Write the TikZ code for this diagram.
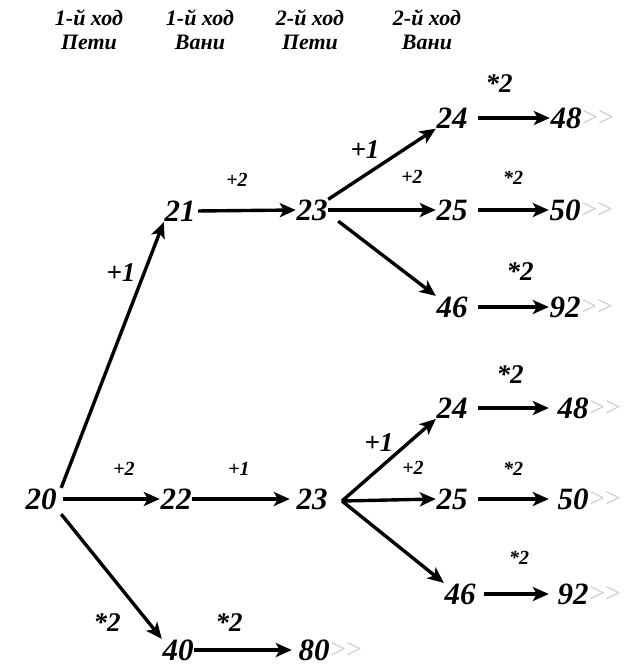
\documentclass[tikz,border=0pt]{standalone}
\usepackage{fontspec}
\setmainfont{Liberation Serif}
\usetikzlibrary{arrows.meta,calc}
\begin{document}
\begin{tikzpicture}[x=1pt,y=-1pt,
  num/.style={font=\fontsize{31}{31}\selectfont\bfseries\itshape, inner sep=0.5pt},
  big/.style={font=\fontsize{27}{27}\selectfont\bfseries\itshape, inner sep=0pt},
  small/.style={font=\fontsize{20}{20}\selectfont\bfseries\itshape, inner sep=0pt},
  head/.style={font=\fontsize{22}{24}\selectfont\bfseries\itshape, align=center, inner sep=0pt},
  more/.style={font=\fontsize{28}{28}\selectfont, text=gray!40, inner sep=0pt, anchor=west},
  arr/.style={line width=3.4pt, -{Stealth[length=16pt,width=14pt,inset=4pt]}}
]
\useasboundingbox (0,0) rectangle (627,667);
% headers
\node[head] (h1) at (89,30) {1-й ход\\Пети};
\node[head] (h2) at (200,30) {1-й ход\\Вани};
\node[head] (h3) at (310,30) {2-й ход\\Пети};
\node[head] (h4) at (427,30) {2-й ход\\Вани};
% nodes
\node[num] (n20) at (41,499) {20};
\node[num] (n21) at (180,211) {21};
\node[num] (n23a) at (312,210) {23};
\node[num] (n24a) at (452,118) {24};
\node[num] (n25a) at (452,210) {25};
\node[num] (n46a) at (452,307) {46};
\node[num] (n48a) at (566,118) {48};
\node[num] (n50a) at (565,210) {50};
\node[num] (n92a) at (565,307) {92};
\node[num] (n22) at (176,499) {22};
\node[num] (n23b) at (312,499) {23};
\node[num] (n24b) at (452,408) {24};
\node[num] (n25b) at (452,499) {25};
\node[num] (n46b) at (460,594) {46};
\node[num] (n48b) at (573,408) {48};
\node[num] (n50b) at (573,499) {50};
\node[num] (n92b) at (573,594) {92};
\node[num] (n40) at (178,650) {40};
\node[num] (n80) at (314,650) {80};
% grey >>
\node[more] (g48a) at (n48a.east) {>{}>};
\node[more] (g50a) at (n50a.east) {>{}>};
\node[more] (g92a) at (n92a.east) {>{}>};
\node[more] (g48b) at (n48b.east) {>{}>};
\node[more] (g50b) at (n50b.east) {>{}>};
\node[more] (g92b) at (n92b.east) {>{}>};
\node[more] (g80) at (n80.east) {>{}>};
% labels
\node[big] (l1) at (121,273) {+1};
\node[small] (l2) at (237,180) {+2};
\node[big] (l3) at (365,150) {+1};
\node[small] (l4) at (412,177) {+2};
\node[big] (l5) at (499,84) {*2};
\node[small] (l6) at (513,178) {*2};
\node[big] (l7) at (520,272) {*2};
\node[small] (l8) at (124,469) {+2};
\node[small] (l9) at (239,469) {+1};
\node[big] (l10) at (510,375) {*2};
\node[big] (l11) at (379,443) {+1};
\node[small] (l12) at (413,468) {+2};
\node[small] (l13) at (513,469) {*2};
\node[small] (l14) at (519,558) {*2};
\node[big] (l15) at (107,623) {*2};
\node[big] (l16) at (229,623) {*2};
% connectors
\coordinate (fork) at (342,501);
\draw[arr] ([shift={(4,0)}]n20.north east) -- (n21.south west);
\draw[arr] ([shift={(6,0)}]n20.east) -- (n22.west);
\draw[arr] ([shift={(4,4)}]n20.south east) -- (n40.north west);
\draw[arr, shorten <=2pt] (n21.east) -- (n23a.west);
\draw[arr] (n23a) -- (n24a);
\draw[arr] (n23a.east) -- (n25a.west);
\draw[arr] ([shift={(10,0)}]n23a.south east) -- (n46a.north west);
\draw[arr, shorten <=10pt] (n24a.east) -- (n48a.west);
\draw[arr, shorten <=10pt] (n25a.east) -- (n50a.west);
\draw[arr, shorten <=10pt] (n46a.east) -- (n92a.west);
\draw[arr, shorten >=6pt] (n22.east) -- (n23b.west);
\draw[arr] (fork) -- (n24b.south west);
\draw[arr] (fork) -- (n25b.west);
\draw[arr] (fork) -- (n46b.north west);
\draw[arr, shorten <=10pt, shorten >=8pt] (n24b.east) -- (n48b.west);
\draw[arr, shorten <=10pt, shorten >=8pt] (n25b.east) -- (n50b.west);
\draw[arr, shorten <=8pt, shorten >=8pt] (n46b.east) -- (n92b.west);
\draw[arr, shorten >=6pt] (n40.east) -- (n80.west);
\end{tikzpicture}
\end{document}
